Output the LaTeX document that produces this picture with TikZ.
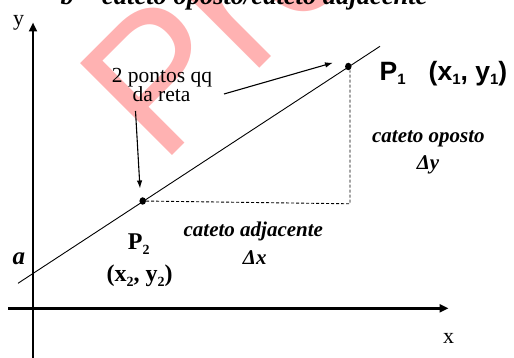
\documentclass[tikz,border=0pt]{standalone}
\usepackage{fontspec}
\setmainfont{Liberation Serif}
\newfontfamily\arialfont{Liberation Sans}
\usetikzlibrary{arrows.meta}
\definecolor{wmpink}{RGB}{255,178,178}
\newcommand\subdown[3]{\raisebox{-#2}{\fontsize{#3}{#3}\selectfont #1}}
\tikzset{
  axisline/.style={line width=2.5pt,-{Triangle[length=9pt,width=8pt]}},
  thinline/.style={line width=0.9pt},
  dashline/.style={line width=0.9pt,dash pattern=on 3pt off 2pt},
  pointer/.style={line width=1.1pt,-{Latex[length=8pt,width=5.5pt]}},
  dotnode/.style={ellipse,fill=black,inner sep=0pt,minimum width=6.5pt,minimum height=7.5pt},
  txt/.style={inner sep=0pt,anchor=base},
  regtxt/.style={txt,font=\fontsize{21.5}{21.5}\selectfont},
  bitxt/.style={txt,font=\fontsize{21}{21}\selectfont\bfseries\itshape},
  boldtxt/.style={txt,font=\fontsize{24}{24}\selectfont\bfseries},
}
\usetikzlibrary{shapes.geometric}
\begin{document}
\begin{tikzpicture}[x=1pt,y=-1pt]
\useasboundingbox (0,0) rectangle (514,358);
\begin{scope}
\clip (0,0) rectangle (514,358);
% watermark
\node[inner sep=0pt,anchor=base west,rotate=45,text=wmpink,font=\arialfont\fontsize{189}{189}\selectfont] (wm) at (161.3,167.1) {Pre};
% title
\node[txt,font=\fontsize{26.5}{26.5}\selectfont\bfseries\itshape] (title) at (244,5) {b = cateto oposto/cateto adjacente};
% axes
\coordinate (yb) at (33,358);
\coordinate (yt) at (33,22.5);
\coordinate (xl) at (8,308.3);
\coordinate (xr) at (448.5,308.3);
\draw[axisline] (yb) -- (yt);
\draw[axisline] (xl) -- (xr);
\node[txt,font=\fontsize{22}{22}\selectfont] (ylab) at (18.7,26) {y};
\node[txt,font=\fontsize{22}{22}\selectfont] (xlab) at (448.7,343) {x};
% line
\coordinate (la) at (18,283.3);
\coordinate (lb) at (380,46.3);
\draw[thinline] (la) -- (lb);
\node[dotnode] (p1) at (348.3,66.5) {};
\node[dotnode] (p2) at (142.7,201) {};
% dashed legs
\coordinate (corner) at (350,203.8);
\draw[dashline] (p2) -- (corner) -- (corner |- p1.south);
% labels
\node[txt,font=\fontsize{25}{25}\selectfont\bfseries\itshape] (alab) at (18.8,265) {a};
\node[regtxt] (pts1) at (162,82.5) {2 pontos qq};
\node[regtxt] (pts2) at (161.5,102) {da reta};
\coordinate (s1) at (224,94);
\coordinate (e1) at (333,62.7);
\coordinate (s2) at (135.5,111);
\coordinate (e2) at (140,188.5);
\draw[pointer] (s1) -- (e1);
\draw[pointer] (s2) -- (e2);
\node[txt,anchor=base west,font=\arialfont\fontsize{26.5}{26.5}\selectfont\bfseries] (p1lab) at (379.5,81)
  {P\subdown{1}{4pt}{15}\hspace{23pt}(x\subdown{1}{4pt}{15}, y\subdown{1}{4pt}{15})};
\node[bitxt] (op1) at (428.4,143) {cateto oposto};
\node[bitxt] (op2) at (428,170) {Δy};
\node[bitxt] (adj1) at (253.3,236.7) {cateto adjacente};
\node[bitxt] (adj2) at (254.7,264) {Δx};
\node[boldtxt] (p2a) at (138.7,250) {P\subdown{2}{4.3pt}{14}};
\node[boldtxt] (p2b) at (139.7,281.7) {(x\subdown{2}{4.3pt}{14}, y\subdown{2}{4.3pt}{14})};
\end{scope}
\end{tikzpicture}
\end{document}
